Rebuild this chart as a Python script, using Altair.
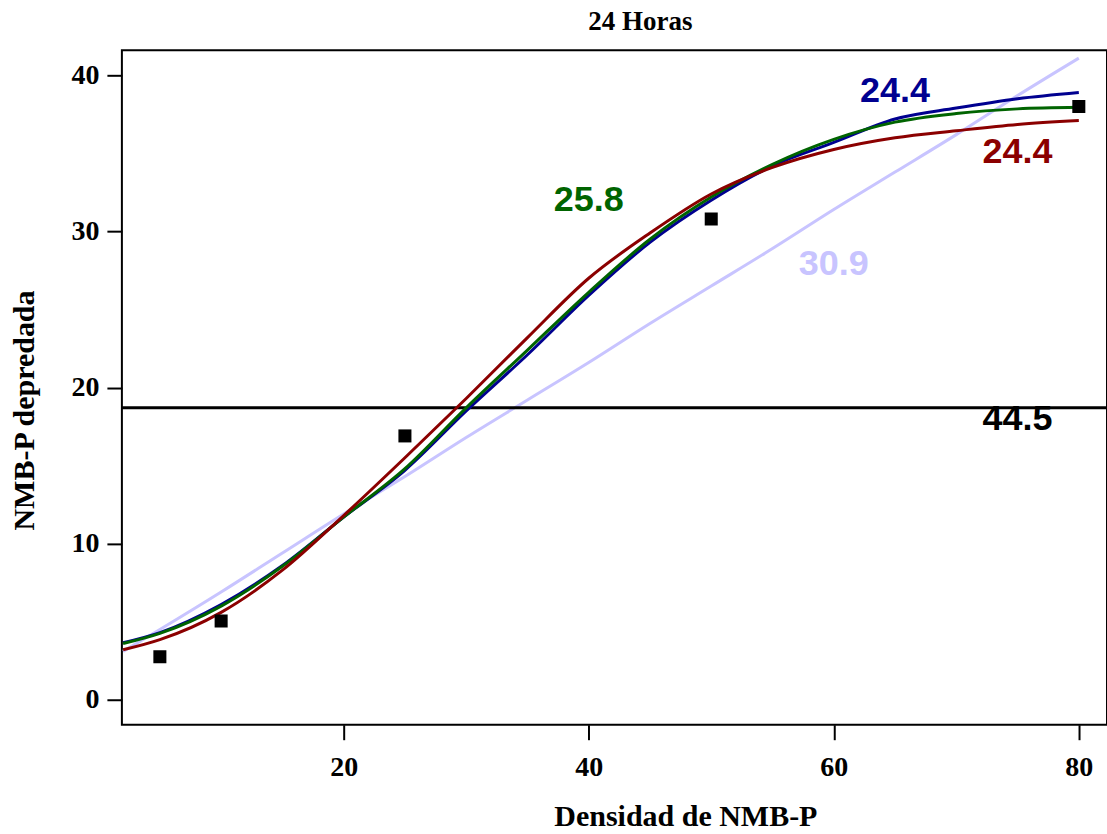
import altair as alt
import pandas as pd

# ---- data ----
x_fit = [2, 5, 10, 15, 20, 25, 30, 35, 40, 45, 50, 55, 60, 65, 70, 75, 80]
blue_fit = [3.65, 4.3, 6.1, 8.6, 11.7, 14.7, 18.5, 22.1, 25.9, 29.3, 32.0, 34.2, 35.7, 37.2, 37.9, 38.5, 38.9]
green_fit = [3.6, 4.25, 6.0, 8.55, 11.7, 14.8, 18.7, 22.4, 26.1, 29.5, 32.2, 34.3, 35.9, 37.0, 37.55, 37.85, 37.95]
red_fit = [3.2, 3.85, 5.6, 8.3, 11.8, 15.5, 19.3, 23.2, 27.0, 29.9, 32.4, 34.1, 35.25, 36.0, 36.45, 36.85, 37.1]
lilac_fit = [3.1, 4.5, 6.9, 9.4, 11.9, 14.3, 16.8, 19.2, 21.6, 24.1, 26.5, 28.9, 31.4, 33.8, 36.2, 38.7, 41.1]

obs_x = [5, 10, 25, 50, 80]
obs_y = [2.75, 5.05, 16.9, 30.8, 38.0]

hline_y = [18.7]

label_text = ["24.4", "24.4", "25.8", "30.9", "44.5"]
label_x = [65, 75, 40, 60, 75]
label_y = [39.0, 35.1, 32.0, 27.9, 18.0]
label_color = ["#000090", "#8B0000", "#006400", "#C8C4FF", "#000000"]

X_DOM = [1.9, 82.3]
Y_DOM = [-1.6, 41.6]

xs = alt.Scale(domain=X_DOM, nice=False, zero=False)
ys = alt.Scale(domain=Y_DOM, nice=False, zero=False)

x_axis = alt.Axis(values=[20, 40, 60, 80], title="Densidad de NMB-P",
                  titleX=564, titleY=101, titleBaseline="alphabetic",
                  titleAlign="center", labelPadding=14, grid=False, domain=False)
y_axis = alt.Axis(values=[0, 10, 20, 30, 40], title="NMB-P depredada",
                  titleX=-97, titleY=360, titleAngle=-90, titleAlign="center",
                  titleBaseline="middle", labelPadding=8, grid=False, domain=False)


def fit_layer(vals, color):
    df = pd.DataFrame({"x": x_fit, "y": vals})
    return alt.Chart(df).mark_line(color=color, strokeWidth=3, interpolate="monotone", clip=True).encode(
        x=alt.X("x:Q", scale=xs, axis=x_axis),
        y=alt.Y("y:Q", scale=ys, axis=y_axis),
    )


lilac = fit_layer(lilac_fit, "#C8C4FF")
rule = alt.Chart(pd.DataFrame({"y": hline_y})).mark_rule(color="black", strokeWidth=3).encode(
    y=alt.Y("y:Q", scale=ys)
)
blue = fit_layer(blue_fit, "#000090")
green = fit_layer(green_fit, "#006400")
red = fit_layer(red_fit, "#8B0000")

points = alt.Chart(pd.DataFrame({"x": obs_x, "y": obs_y})).mark_square(
    color="black", size=170, opacity=1, clip=True
).encode(x=alt.X("x:Q", scale=xs), y=alt.Y("y:Q", scale=ys))

labels_df = pd.DataFrame({"t": label_text, "x": label_x, "y": label_y, "c": label_color})
labels = alt.Chart(labels_df).mark_text(
    font="Liberation Sans", fontSize=36, fontWeight="bold", align="center", baseline="middle"
).encode(
    x=alt.X("x:Q", scale=xs),
    y=alt.Y("y:Q", scale=ys),
    text="t:N",
    color=alt.Color("c:N", scale=None, legend=None),
)

chart = alt.layer(lilac, rule, blue, green, red, points, labels).properties(
    width=986,
    height=675,
    background="white",
    title=alt.TitleParams("24 Horas", font="Liberation Serif", fontSize=27, fontWeight="bold",
                          anchor="middle", dx=26, offset=14, color="black"),
    autosize=alt.AutoSizeParams(type="none"),
    padding={"left": 122, "top": 50, "right": 0, "bottom": 109},
).configure_view(
    stroke="black", strokeWidth=2
).configure_axis(
    domain=False, grid=False, ticks=True, tickColor="black", tickWidth=2, tickSize=15,
    labelFont="Liberation Serif", labelFontSize=28, labelFontWeight="bold", labelColor="black",
    titleFont="Liberation Serif", titleFontSize=30, titleFontWeight="bold", titleColor="black",
)

chart.save("out.html", embed_options={"renderer": "svg", "actions": False})
